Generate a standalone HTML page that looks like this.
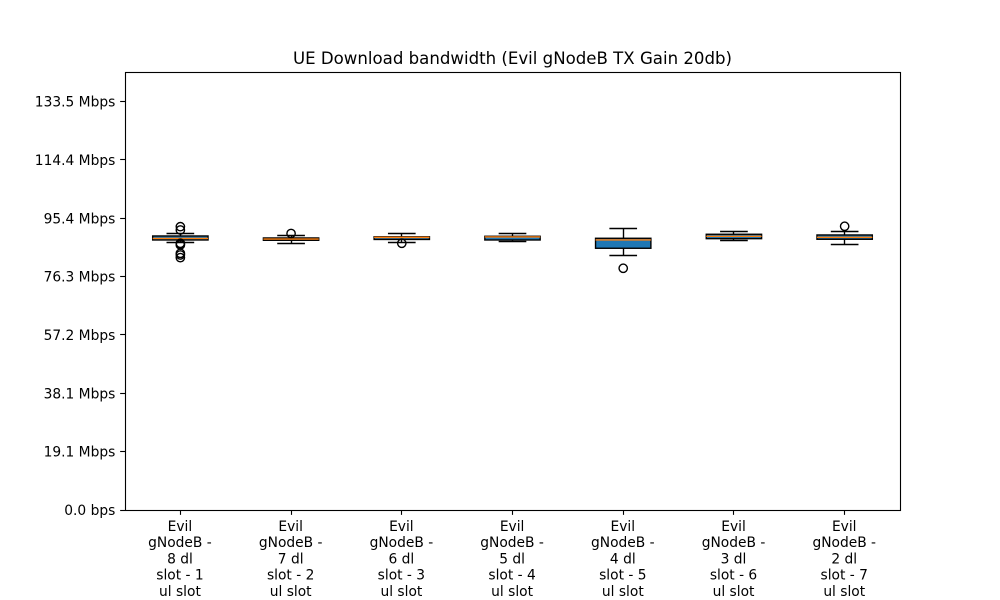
<!DOCTYPE html>
<html>
<head>
<meta charset="utf-8">
<style>
html,body{margin:0;padding:0;background:#fff;}
svg{display:block;font-family:"DejaVu Sans",sans-serif;}
text{fill:#000;}
</style>
</head>
<body>
<svg id="chart" width="1000" height="600" viewBox="0 0 1000 600" xmlns="http://www.w3.org/2000/svg">
<text x="512.5" y="64" font-size="16.6" text-anchor="middle">UE Download bandwidth (Evil gNodeB TX Gain 20db)</text>
</svg>
<script>
const categories = [
  ["Evil","gNodeB -","8 dl","slot - 1","ul slot"],
  ["Evil","gNodeB -","7 dl","slot - 2","ul slot"],
  ["Evil","gNodeB -","6 dl","slot - 3","ul slot"],
  ["Evil","gNodeB -","5 dl","slot - 4","ul slot"],
  ["Evil","gNodeB -","4 dl","slot - 5","ul slot"],
  ["Evil","gNodeB -","3 dl","slot - 6","ul slot"],
  ["Evil","gNodeB -","2 dl","slot - 7","ul slot"]
];
const q1Values = [88.28,88.18,88.45,88.28,85.57,88.71,88.51];
const q3Values = [89.59,88.94,89.33,89.49,88.84,90.15,89.92];
const medianValues = [88.78,88.58,89.13,89.26,88.28,89.49,89.17];
const whiskerLowValues = [87.40,87.20,87.53,87.86,83.15,88.05,86.88];
const whiskerHighValues = [90.25,89.59,90.25,90.25,92.11,90.90,90.90];
const flierValues = [
  [92.63,91.55,87.20,86.88,86.65,83.94,83.38,82.50],
  [90.41],
  [87.20],
  [],
  [79.03],
  [],
  [92.76]
];
const tickValues = [0,19.07,38.15,57.22,76.29,95.37,114.44,133.51];
const tickLabels = ["0.0 bps","19.1 Mbps","38.1 Mbps","57.2 Mbps","76.3 Mbps","95.4 Mbps","114.4 Mbps","133.5 Mbps"];
const yMax = 143.2;

const svg = document.getElementById('chart');
const NS = 'http://www.w3.org/2000/svg';
const plot = {left:125, right:900, top:72, bottom:510};
function xScale(pos){ return plot.left + (pos - 0.5) / 7 * (plot.right - plot.left); }
function yScale(v){ return plot.bottom - v / yMax * (plot.bottom - plot.top); }
function snap(p){ return Math.round(p - 0.5) + 0.5; }
function mk(tag, attrs, parent){
  const el = document.createElementNS(NS, tag);
  for (const k in attrs) el.setAttribute(k, attrs[k]);
  (parent || svg).appendChild(el);
  return el;
}
function line(x1,y1,x2,y2,w,color,parent){
  return mk('line',{x1:x1,y1:y1,x2:x2,y2:y2,stroke:color||'#000','stroke-width':w},parent);
}

categories.forEach(function(lines,i){
  const g = mk('g',{});
  
  
  const cx = xScale(i + 1);
  const sx = snap(cx);
  const halfBox = 0.25 / 7 * 775;
  const halfCap = 0.125 / 7 * 775;
  const yq1 = yScale(q1Values[i]);
  const yq3 = yScale(q3Values[i]);
  const yMed = yScale(medianValues[i]);
  const yLo = yScale(whiskerLowValues[i]);
  const yHi = yScale(whiskerHighValues[i]);

  const wl = line(sx,yq1,sx,yLo,1.39,'#000',g);
  
  
  const wh = line(sx,yq3,sx,yHi,1.39,'#000',g);
  
  
  const cl = line(cx-halfCap,snap(yLo),cx+halfCap,snap(yLo),1.39,'#000',g);
  
  
  const ch = line(cx-halfCap,snap(yHi),cx+halfCap,snap(yHi),1.39,'#000',g);
  
  

  const box = mk('rect',{x:cx-halfBox,y:yq3,width:halfBox*2,height:yq1-yq3,fill:'#1f77b4',stroke:'#000','stroke-width':1.39},g);
  
  
  const med = line(cx-halfBox,yMed,cx+halfBox,yMed,1.39,'#ff7f0e',g);
  
  

  flierValues[i].forEach(function(v){
    const c = mk('circle',{cx:cx,cy:yScale(v),r:4.17,fill:'none',stroke:'#000','stroke-width':1.39},g);
    
    
  });

  const tick = line(sx,plot.bottom,sx,plot.bottom+4.86,1.11,'#000');
  
  

  const label = mk('text',{x:cx-0.4,'font-size':13.8,'text-anchor':'middle'});
  
  
  lines.forEach(function(t,j){
    const s = mk('tspan',{x:cx-0.4,y:531 + j * 16.2},label);
    s.textContent = t;
  });
});

tickValues.forEach(function(v,i){
  const y = snap(yScale(v));
  const tick = line(plot.left-4.86,y,plot.left,y,1.11,'#000');
  
  
  const t = mk('text',{x:115.3,y:yScale(v)+5,'font-size':13.8,'text-anchor':'end'});
  
  
  t.textContent = tickLabels[i];
});

const frame = mk('rect',{x:plot.left+0.5,y:plot.top+0.5,width:plot.right-plot.left,height:plot.bottom-plot.top,fill:'none',stroke:'#000','stroke-width':1.11});


</script>
</body>
</html>
